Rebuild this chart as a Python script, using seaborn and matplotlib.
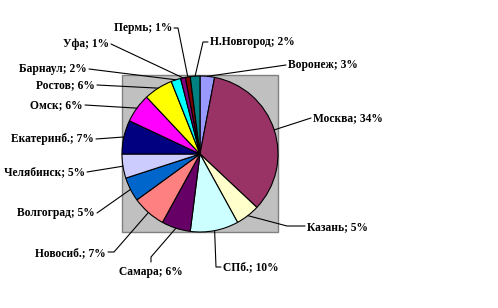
import numpy as np
import matplotlib
matplotlib.use("Agg")
import matplotlib.pyplot as plt
from matplotlib.patches import Rectangle
import seaborn as sns

sns.set_style("white")
plt.rcParams['font.family'] = ['Liberation Serif', 'DejaVu Serif']

cities = ["Воронеж", "Москва", "Казань", "СПб.", "Самара", "Новосиб.", "Волгоград",
          "Челябинск", "Екатеринб.", "Омск", "Ростов", "Барнаул", "Уфа", "Пермь", "Н.Новгород"]
shares = [3, 34, 5, 10, 6, 7, 5, 5, 7, 6, 6, 2, 1, 1, 2]
colors = ["#9999FF", "#993366", "#FFFFCC", "#CCFFFF", "#660066", "#FF8080", "#0066CC",
          "#CCCCFF", "#000080", "#FF00FF", "#FFFF00", "#00FFFF", "#800080", "#800000", "#008080"]

W, H = 498, 308
fig = plt.figure(figsize=(W / 100, H / 100), dpi=100)
ax = fig.add_axes([0, 0, 1, 1])

def P(x, y):
    return (x, H - y)

# plot area
ax.add_patch(Rectangle(P(122, 232), 156, 157, facecolor="#C0C0C0", edgecolor="#808080",
                       lw=1.0, zorder=0))

cx, cy, r = 200, 154, 78
wedges, _ = ax.pie(shares, colors=colors, startangle=90, counterclock=False,
                   center=P(cx, cy), radius=r, frame=True,
                   wedgeprops=dict(edgecolor="black", linewidth=0.8))

# label layout: (x, y, ha, line start, elbow)
layout = [
    (288, 65, "left", (286, 65), None),
    (313, 118, "left", (311, 118), None),
    (307, 227, "left", (305, 226), (287, 226)),
    (223, 267, "left", (221, 267), (216, 267)),
    (151, 272, "center", (151, 262), (151, 257)),
    (106, 253, "right", (108, 252), (114, 252)),
    (95, 213, "right", (97, 213), None),
    (85, 172, "right", (87, 172), None),
    (94, 139, "right", (96, 139), None),
    (83, 105, "right", (85, 105), None),
    (95, 85, "right", (97, 85), None),
    (87, 69, "right", (89, 69), None),
    (109, 44, "right", (111, 44), None),
    (172, 28, "right", (174, 28), (178, 28)),
    (210, 42, "left", (208, 42), (203, 42)),
]

for w, name, val, (tx, ty, ha, start, elbow) in zip(wedges, cities, shares, layout):
    ang = np.deg2rad((w.theta1 + w.theta2) / 2)
    axp = (w.center[0] + w.r * np.cos(ang), w.center[1] + w.r * np.sin(ang))
    pts = [P(*start)]
    if elbow is not None:
        pts.append(P(*elbow))
    pts.append(axp)
    xs, ys = zip(*pts)
    ax.plot(xs, ys, color="black", lw=0.8, zorder=5)
    ax.text(*P(tx, ty), f"{name}; {val}%", ha=ha, va="center", fontsize=8.3,
            fontweight="bold", color="black")

ax.set_xlim(0, W)
ax.set_ylim(0, H)
ax.set_aspect("equal")
ax.axis("off")
fig.savefig("out.png", dpi=100, facecolor="white")
